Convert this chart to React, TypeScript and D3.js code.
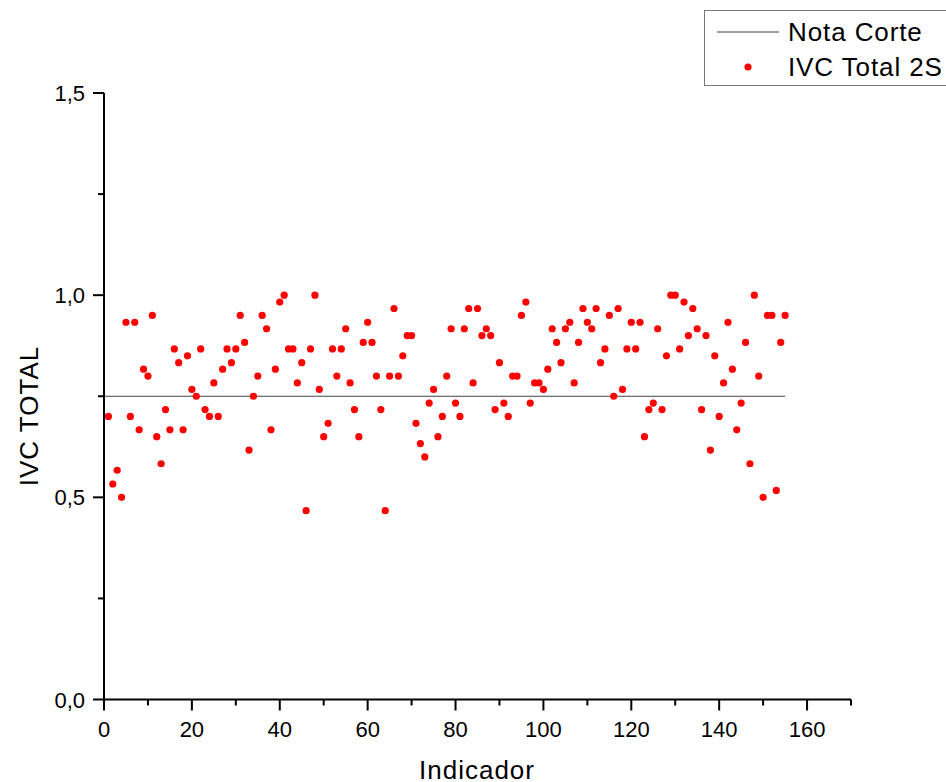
import React from "react";
import * as d3 from "d3";

const indicators: number[] = d3.range(1, 156);
const ivcValues: number[] = [
  0.7, 0.533, 0.567, 0.5, 0.933, 0.7, 0.933, 0.667, 0.817, 0.8,
  0.95, 0.65, 0.583, 0.717, 0.667, 0.867, 0.833, 0.667, 0.85, 0.767,
  0.75, 0.867, 0.717, 0.7, 0.783, 0.7, 0.817, 0.867, 0.833, 0.867,
  0.95, 0.883, 0.617, 0.75, 0.8, 0.95, 0.917, 0.667, 0.817, 0.983,
  1.0, 0.867, 0.867, 0.783, 0.833, 0.467, 0.867, 1.0, 0.767, 0.65,
  0.683, 0.867, 0.8, 0.867, 0.917, 0.783, 0.717, 0.65, 0.883, 0.933,
  0.883, 0.8, 0.717, 0.467, 0.8, 0.967, 0.8, 0.85, 0.9, 0.9,
  0.683, 0.633, 0.6, 0.733, 0.767, 0.65, 0.7, 0.8, 0.917, 0.733,
  0.7, 0.917, 0.967, 0.783, 0.967, 0.9, 0.917, 0.9, 0.717, 0.833,
  0.733, 0.7, 0.8, 0.8, 0.95, 0.983, 0.733, 0.783, 0.783, 0.767,
  0.817, 0.917, 0.883, 0.833, 0.917, 0.933, 0.783, 0.883, 0.967, 0.933,
  0.917, 0.967, 0.833, 0.867, 0.95, 0.75, 0.967, 0.767, 0.867, 0.933,
  0.867, 0.933, 0.65, 0.717, 0.733, 0.917, 0.717, 0.85, 1.0, 1.0,
  0.867, 0.983, 0.9, 0.967, 0.917, 0.717, 0.9, 0.617, 0.85, 0.7,
  0.783, 0.933, 0.817, 0.667, 0.733, 0.883, 0.583, 1.0, 0.8, 0.5,
  0.95, 0.95, 0.517, 0.883, 0.95,
];
const cutoffValue = 0.75;
const cutoffRange: number[] = [0, 155];
const xMajorTicks: number[] = [0, 20, 40, 60, 80, 100, 120, 140, 160];
const xMinorTicks: number[] = [10, 30, 50, 70, 90, 110, 130, 150, 170];
const yMajorTicks: number[] = [0, 0.5, 1.0, 1.5];
const yMinorTicks: number[] = [0.25, 0.75, 1.25];
const legendLabels: string[] = ["Nota Corte", "IVC Total 2S"];
const xTitle = "Indicador";
const yTitle = "IVC TOTAL";

const W = 946;
const H = 782;
const FONT = "'Liberation Sans', Arial, sans-serif";

export default function App() {
  const x = d3.scaleLinear().domain([0, 170]).range([104, 851]);
  const y = d3.scaleLinear().domain([0, 1.5]).range([699.5, 93]);
  const fmt = (v: number) => d3.format(".1f")(v).replace(".", ",");
  const x0 = x(0);
  const y0 = y(0);

  return (
    <svg
      width={W}
      height={H}
      style={{ position: "absolute", left: 0, top: 0, background: "#fff" }}
      fontFamily={FONT}
    >
      <rect x={0} y={0} width={W} height={H} fill="#fff" />
      {/* cutoff line */}
      <line
        x1={x(cutoffRange[0])}
        x2={x(cutoffRange[1])}
        y1={y(cutoffValue)}
        y2={y(cutoffValue)}
        stroke="#444"
        strokeWidth={1}
      />
      {/* points */}
      {ivcValues.map((v, i) => (
        <circle key={i} cx={x(indicators[i])} cy={y(v)} r={3.6} fill="#ff0000" />
      ))}
      {/* x axis */}
      <line x1={x0} x2={x(170)} y1={y0} y2={y0} stroke="#000" strokeWidth={2} />
      {xMajorTicks.map((t) => (
        <g key={"xm" + t}>
          <line x1={x(t)} x2={x(t)} y1={y0} y2={y0 + 11} stroke="#000" strokeWidth={2} />
          <text x={x(t)} y={737} textAnchor="middle" fontSize={22} fill="#000">
            {t}
          </text>
        </g>
      ))}
      {xMinorTicks.map((t) => (
        <line key={"xn" + t} x1={x(t)} x2={x(t)} y1={y0} y2={y0 + 6} stroke="#000" strokeWidth={2} />
      ))}
      {/* y axis */}
      <line x1={x0} x2={x0} y1={y(1.5)} y2={y0 + 1} stroke="#000" strokeWidth={2} />
      {yMajorTicks.map((t) => (
        <g key={"ym" + t}>
          <line x1={x0 - 11} x2={x0} y1={y(t)} y2={y(t)} stroke="#000" strokeWidth={2} />
          <text x={85} y={y(t) + 8} textAnchor="end" fontSize={22} fill="#000">
            {fmt(t)}
          </text>
        </g>
      ))}
      {yMinorTicks.map((t) => (
        <line key={"yn" + t} x1={x0 - 6} x2={x0} y1={y(t)} y2={y(t)} stroke="#000" strokeWidth={2} />
      ))}
      {/* titles */}
      <text x={477} y={779} textAnchor="middle" fontSize={26} letterSpacing={1} fill="#000">
        {xTitle}
      </text>
      <text
        transform={`translate(38,416) rotate(-90)`}
        textAnchor="middle"
        fontSize={26}
        letterSpacing={1}
        fill="#000"
      >
        {yTitle}
      </text>
      {/* legend */}
      <rect x={704.5} y={10.5} width={260} height={75} fill="#fff" stroke="#777" strokeWidth={1} />
      <line x1={717} x2={779} y1={32} y2={32} stroke="#444" strokeWidth={1} />
      <text x={788} y={41} fontSize={26} letterSpacing={0.9} fill="#000">
        {legendLabels[0]}
      </text>
      <circle cx={748} cy={67} r={3.6} fill="#ff0000" />
      <text x={788} y={76} fontSize={26} letterSpacing={0.9} fill="#000">
        {legendLabels[1]}
      </text>
    </svg>
  );
}
